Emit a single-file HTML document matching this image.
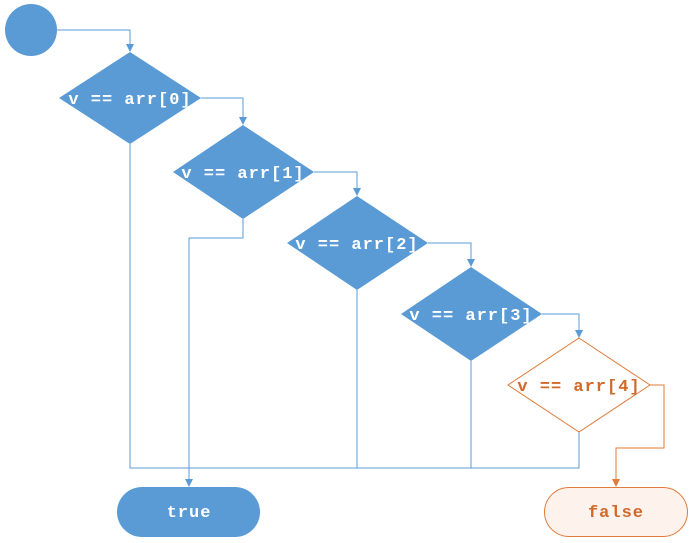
<!DOCTYPE html>
<html><head><meta charset="utf-8"><style>body{margin:0;background:#fff}svg{display:block}</style></head><body>
<svg width="689" height="543" viewBox="0 0 689 543" xmlns="http://www.w3.org/2000/svg">
<defs>
<marker id="ab" markerWidth="8" markerHeight="8" refX="7" refY="4" orient="auto" markerUnits="userSpaceOnUse"><path d="M0,0 L8,4 L0,8 z" fill="#5b9bd5"/></marker>
<marker id="ao" markerWidth="8" markerHeight="8" refX="7" refY="4" orient="auto" markerUnits="userSpaceOnUse"><path d="M0,0 L8,4 L0,8 z" fill="#e07b39"/></marker>
</defs>
<g fill="none" stroke="#5b9bd5" stroke-width="1">
<path d="M57,30 H130 V51" marker-end="url(#ab)"/>
<path d="M201,98 H243 V124" marker-end="url(#ab)"/>
<path d="M314,172 H357 V195" marker-end="url(#ab)"/>
<path d="M428,243 H471 V266" marker-end="url(#ab)"/>
<path d="M542,314 H579 V337" marker-end="url(#ab)"/>
<path d="M130,144 V468 H579 V432"/>
<path d="M357,290 V468"/>
<path d="M471,361 V468"/>
<path d="M243,219 V238 H189 V486" marker-end="url(#ab)"/>
</g>
<path d="M650,385 H664 V448 H616 V486" fill="none" stroke="#e07b39" stroke-width="1" marker-end="url(#ao)"/>
<circle cx="31" cy="30" r="26" fill="#5b9bd5"/>
<g fill="#5b9bd5">
<polygon points="130,52 201,98 130,144 59,98"/>
<polygon points="243,125 314,172 243,219 173,172"/>
<polygon points="357,196 428,243 357,290 287,243"/>
<polygon points="471,267 542,314 471,361 401,314"/>
</g>
<polygon points="579,338 650,385 579,432 508,385" fill="#fff" stroke="#e07b39"/>
<rect x="117" y="487" width="143" height="50" rx="25" fill="#5b9bd5"/>
<rect x="544.5" y="487.5" width="143" height="49" rx="24.5" fill="#fdf2ec" stroke="#e07b39"/>
<g font-family="Liberation Mono, monospace" font-weight="bold" font-size="17" letter-spacing="1" text-anchor="middle" fill="#fff">
<text x="130" y="104">v == arr[0]</text>
<text x="243" y="178">v == arr[1]</text>
<text x="357" y="249">v == arr[2]</text>
<text x="471" y="320">v == arr[3]</text>
<text x="579" y="391" fill="#d0692a">v == arr[4]</text>
<text x="189" y="517">true</text>
<text x="616" y="517" fill="#d0692a">false</text>
</g>
</svg>
</body></html>
